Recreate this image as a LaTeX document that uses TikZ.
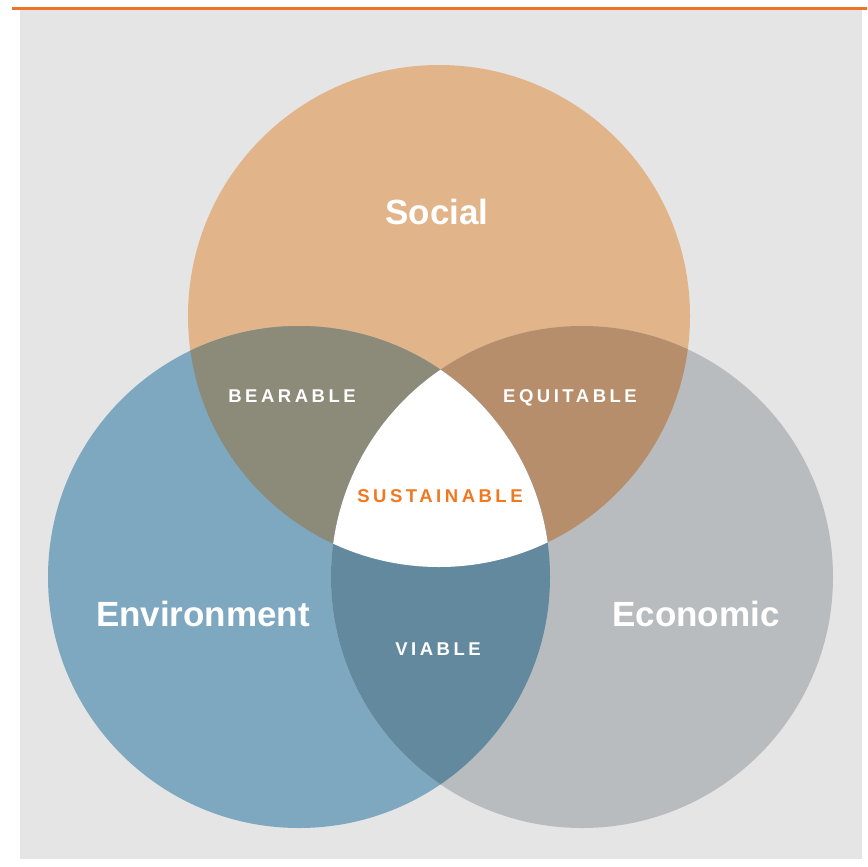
\documentclass[tikz,border=0pt]{standalone}
\usepackage{fontspec}
\setmainfont{Liberation Sans}
\definecolor{bgray}{HTML}{E5E5E5}
\definecolor{topline}{HTML}{F07325}
\definecolor{socialc}{HTML}{E2B48A}
\definecolor{envc}{HTML}{7DA8BF}
\definecolor{ecoc}{HTML}{B9BCBF}
\definecolor{bearc}{HTML}{8C8A78}
\definecolor{equic}{HTML}{B78E6C}
\definecolor{viac}{HTML}{63899F}
\definecolor{sustc}{HTML}{F07820}
\tikzset{
  biglabel/.style={text=white, anchor=base, inner sep=0pt, font=\fontsize{35}{40}\selectfont\bfseries},
  smalllabel/.style={text=white, anchor=base, inner sep=0pt, font=\fontsize{18.5}{22}\selectfont\bfseries\addfontfeatures{LetterSpace=19}},
}
\begin{document}
\begin{tikzpicture}[x=1pt,y=-1pt]
\useasboundingbox (0,0) rectangle (867,867);
\fill[white] (0,0) rectangle (867,867);
\fill[topline] (12,7) rectangle (867,10);
\fill[bgray] (20,10) rectangle (862,859);
\coordinate (cS) at (439,316);
\coordinate (cE) at (299,577);
\coordinate (cC) at (582,577);
\def\rr{251}
\fill[socialc] (cS) circle[radius=\rr];
\fill[envc] (cE) circle[radius=\rr];
\fill[ecoc] (cC) circle[radius=\rr];
\begin{scope}
  \clip (cS) circle[radius=\rr];
  \fill[bearc] (cE) circle[radius=\rr];
  \fill[equic] (cC) circle[radius=\rr];
\end{scope}
\begin{scope}
  \clip (cE) circle[radius=\rr];
  \fill[viac] (cC) circle[radius=\rr];
\end{scope}
\begin{scope}
  \clip (cS) circle[radius=\rr];
  \clip (cE) circle[radius=\rr];
  \fill[white] (cC) circle[radius=\rr];
\end{scope}
\node[biglabel] (social) at (437,224) {Social};
\node[biglabel] (env) at (203,626) {Environment};
\node[biglabel] (eco) at (696,626) {Economic};
\node[smalllabel] (bear) at (292,402) {BEARABLE};
\node[smalllabel] (equi) at (570,402) {EQUITABLE};
\node[smalllabel, text=sustc] (sust) at (440,502) {SUSTAINABLE};
\node[smalllabel] (via) at (438,655) {VIABLE};
\end{tikzpicture}
\end{document}
